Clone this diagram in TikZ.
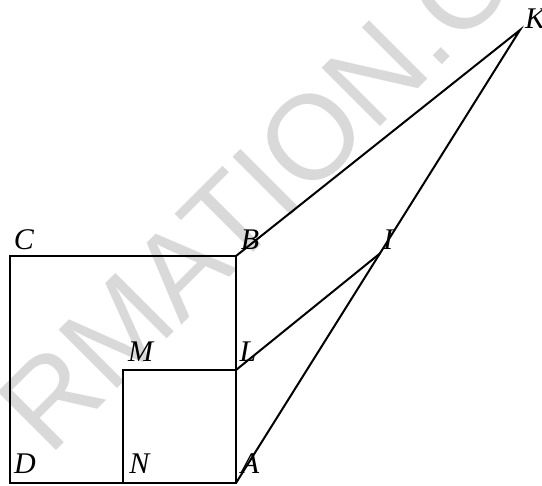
\documentclass[tikz,border=0pt]{standalone}
\usepackage{fontspec}
\setmainfont{Liberation Serif}
\newfontfamily\wmfont{Liberation Sans}
\tikzset{
  edge/.style={draw=black,line width=1.5pt,line join=miter},
  pointlabel/.style={font=\itshape\fontsize{22.5}{25}\selectfont,text=black,inner sep=0pt},
  watermark/.style={font=\wmfont\fontsize{90}{96}\selectfont,text=black!15,inner sep=0pt,rotate=45}
}
\begin{document}
\begin{tikzpicture}[x=0.75pt,y=-0.75pt]
\useasboundingbox (0,0) rectangle (542,485);
\begin{scope}
\clip (0,0) rectangle (542,485);
\node[watermark] (wm) at (255,193) {RMATION.C};
\end{scope}
\coordinate (C) at (10,256);
\coordinate (B) at (236,256);
\coordinate (D) at (10,483);
\coordinate (A) at (236,483);
\coordinate (M) at (123,370);
\coordinate (L) at (236,370);
\coordinate (N) at (123,483);
\coordinate (K) at (520,30);
\coordinate (I) at (380.5,253);
\draw[edge] (A) -- (B) -- (C) -- (D) -- cycle;
\draw[edge] (N) -- (M) -- (L);
\draw[edge] (B) -- (K) -- (A);
\draw[edge] (L) -- (I);
\begin{scope}
\clip (0,0) rectangle (542,485);
\node[pointlabel] (lC) at (24,240) {C};
\node[pointlabel] (lB) at (250,240) {B};
\node[pointlabel] (lI) at (388,240) {I};
\node[pointlabel] (lK) at (535,19) {K};
\node[pointlabel] (lM) at (140.5,352) {M};
\node[pointlabel] (lL) at (248,352) {L};
\node[pointlabel] (lD) at (25,464) {D};
\node[pointlabel] (lN) at (139.5,464) {N};
\node[pointlabel] (lA) at (250,464) {A};
\end{scope}
\end{tikzpicture}
\end{document}
